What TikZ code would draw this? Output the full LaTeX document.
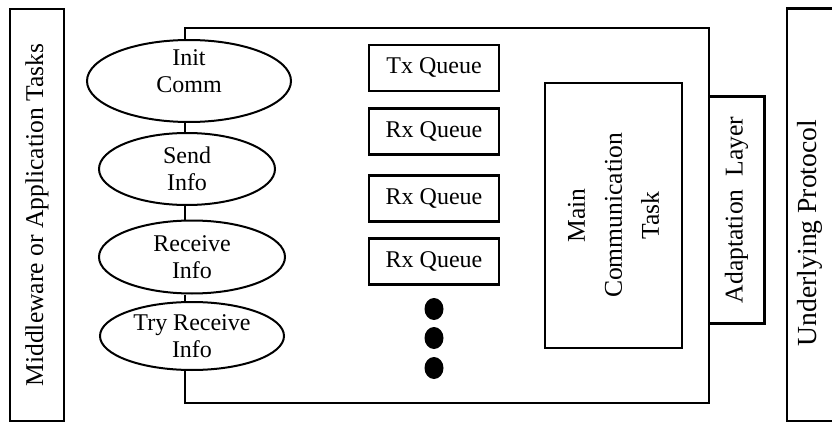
\documentclass[tikz,border=0pt]{standalone}
\usepackage{fontspec}
\setmainfont{Liberation Serif}
\usetikzlibrary{positioning,shapes.geometric}

\begin{document}
\begin{tikzpicture}[x=0.5pt,y=-0.5pt,font=\fontsize{12}{13.5}\selectfont,
  box/.style={draw,line width=1.4pt,inner sep=0pt,align=center},
  oval/.style={draw,ellipse,line width=1pt,inner sep=0pt,align=center},
  q/.style={box,minimum width=65pt,minimum height=23pt},
  dot/.style={fill,ellipse,minimum width=9.5pt,minimum height=11pt,inner sep=0pt},
  vt/.style={font=\fontsize{12.8}{14}\selectfont},
  node distance=7.5pt]
\clip (0,0) rectangle (832,423);
% side layers
\node[box,vt,rotate=90,minimum width=206pt,minimum height=27pt] (app) at (37,215) {Middleware or Application Tasks};
\node[box,minimum width=41.5pt,minimum height=206.25pt] (proto) at (828.5,214.75) {};
\node[rotate=90,font=\fontsize{13.8}{15}\selectfont] (protolbl) at (810,233) {Underlying Protocol};
% API calls
\node[oval,minimum width=102pt,minimum height=41pt,
  label={[align=center,yshift=5pt]center:Init\\Comm}] (init) at (189,81) {};
\node[oval,minimum width=88pt,minimum height=36pt] (send) at (187,169) {Send\\Info};
\node[oval,minimum width=93pt,minimum height=36.5pt] (recv) at (192,257) {Receive\\Info};
\node[oval,minimum width=92pt,minimum height=34pt] (tryr) at (192,336) {Try Receive\\Info};
% comm module
\coordinate (tl) at (185,28);
\coordinate (br) at (709,403);
\draw[line width=1.4pt] (init.north -| tl) -- (tl) -| (br) -| (tryr.south -| tl);
\draw[line width=1.4pt] (init.south -| tl) -- (send.north -| tl);
\draw[line width=1.4pt] (send.south -| tl) -- (recv.north -| tl);
\draw[line width=1.4pt] (recv.south -| tl) -- (tryr.north -| tl);
% queues
\node[q] (txq) at (434,68) {Tx Queue};
\node[q,below=of txq] (rxa) {Rx Queue};
\node[q,below=9pt of rxa] (rxb) {Rx Queue};
\node[q,below=7pt of rxb] (rxc) {Rx Queue};
\foreach \i/\y in {1/309,2/338,3/368}
  \node[dot] (d\i) at (434,\y) {};
\node[box,rotate=90,minimum width=132.5pt,minimum height=68.5pt,font=\fontsize{12.8}{18.5}\selectfont] (mct) at (613.5,215.5) {Main\\Communication\\Task};
\node[vt,rotate=90,minimum width=113pt,minimum height=27.5pt,inner sep=0pt] (adl) at (736.5,210) {Adaptation\ \ Layer};
\draw[line width=1.4pt] (adl.north east) -- (adl.south east) -- (adl.south west) -- (adl.north west);
\end{tikzpicture}
\end{document}
